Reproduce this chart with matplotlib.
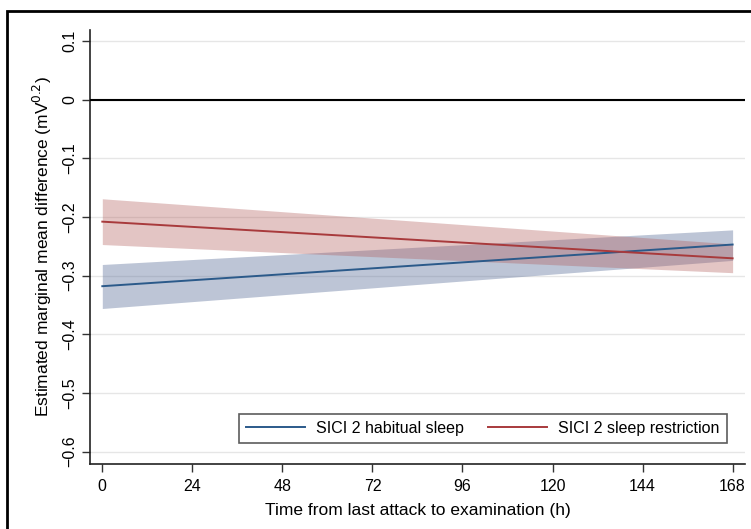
import matplotlib
matplotlib.use("Agg")
import matplotlib.pyplot as plt
from matplotlib.patches import Rectangle

plt.rcParams['font.family'] = ['Liberation Sans', 'DejaVu Sans']

hours = [0, 168]
habitual = [-0.318, -0.247]
habitual_lo = [-0.356, -0.274]
habitual_hi = [-0.281, -0.222]
restriction = [-0.208, -0.2705]
restriction_lo = [-0.247, -0.295]
restriction_hi = [-0.169, -0.246]

xticks = [0, 24, 48, 72, 96, 120, 144, 168]
yticks = [0.1, 0, -0.1, -0.2, -0.3, -0.4, -0.5, -0.6]
ytick_labels = ["0.1", "0", "\u22120.1", "\u22120.2", "\u22120.3", "\u22120.4", "\u22120.5", "\u22120.6"]

blue = "#2b5a8a"
red = "#a83a3c"

fig = plt.figure(figsize=(7.51, 5.29), dpi=100)
ax = fig.add_axes([90/751, 1-464/529, 655/751, 434/529])

ax.fill_between(hours, habitual_lo, habitual_hi, color="#5a6f99", alpha=0.4, lw=0)
ax.fill_between(hours, restriction_lo, restriction_hi, color="#b05a58", alpha=0.35, lw=0)
ax.plot(hours, habitual, color=blue, lw=1.4, label="SICI 2 habitual sleep")
ax.plot(hours, restriction, color=red, lw=1.4, label="SICI 2 sleep restriction")
ax.axhline(0, color="black", lw=1.5, zorder=3)

ax.set_xlim(-3.28, 171.3)
ax.set_ylim(-0.621, 0.1186)
ax.set_xticks(xticks)
ax.set_yticks(yticks)
ax.set_yticklabels(ytick_labels, rotation=90, va="center")
ax.tick_params(axis="both", labelsize=11.5, length=6, width=1, color="#333333")
ax.tick_params(axis="y", pad=3)
ax.tick_params(axis="x", pad=5)
ax.grid(axis="y", color="#e6e6e6", lw=1)
ax.set_axisbelow(True)
for s in ["top", "right"]:
    ax.spines[s].set_visible(False)
for s in ["left", "bottom"]:
    ax.spines[s].set_color("#222222")
    ax.spines[s].set_linewidth(1.2)

ax.set_xlabel("Time from last attack to examination (h)", fontsize=12.5, labelpad=6)
ax.set_ylabel("Estimated marginal mean difference (mV$^{0.2}$)", fontsize=12.5, labelpad=6)

leg = ax.legend(loc="lower right", bbox_to_anchor=(0.9725, 0.048), borderaxespad=0, ncol=2,
                fontsize=11.5, frameon=True, fancybox=False, edgecolor="#333333",
                handlelength=3.7, columnspacing=1.5, borderpad=0.45, handletextpad=0.7)
leg.get_frame().set_linewidth(1.2)

fig.patches.append(Rectangle((7/751, -0.1), 1.2, 1-10.7/529+0.1, transform=fig.transFigure,
                             fill=False, edgecolor="black", lw=2))

fig.savefig("out.png", dpi=100)
